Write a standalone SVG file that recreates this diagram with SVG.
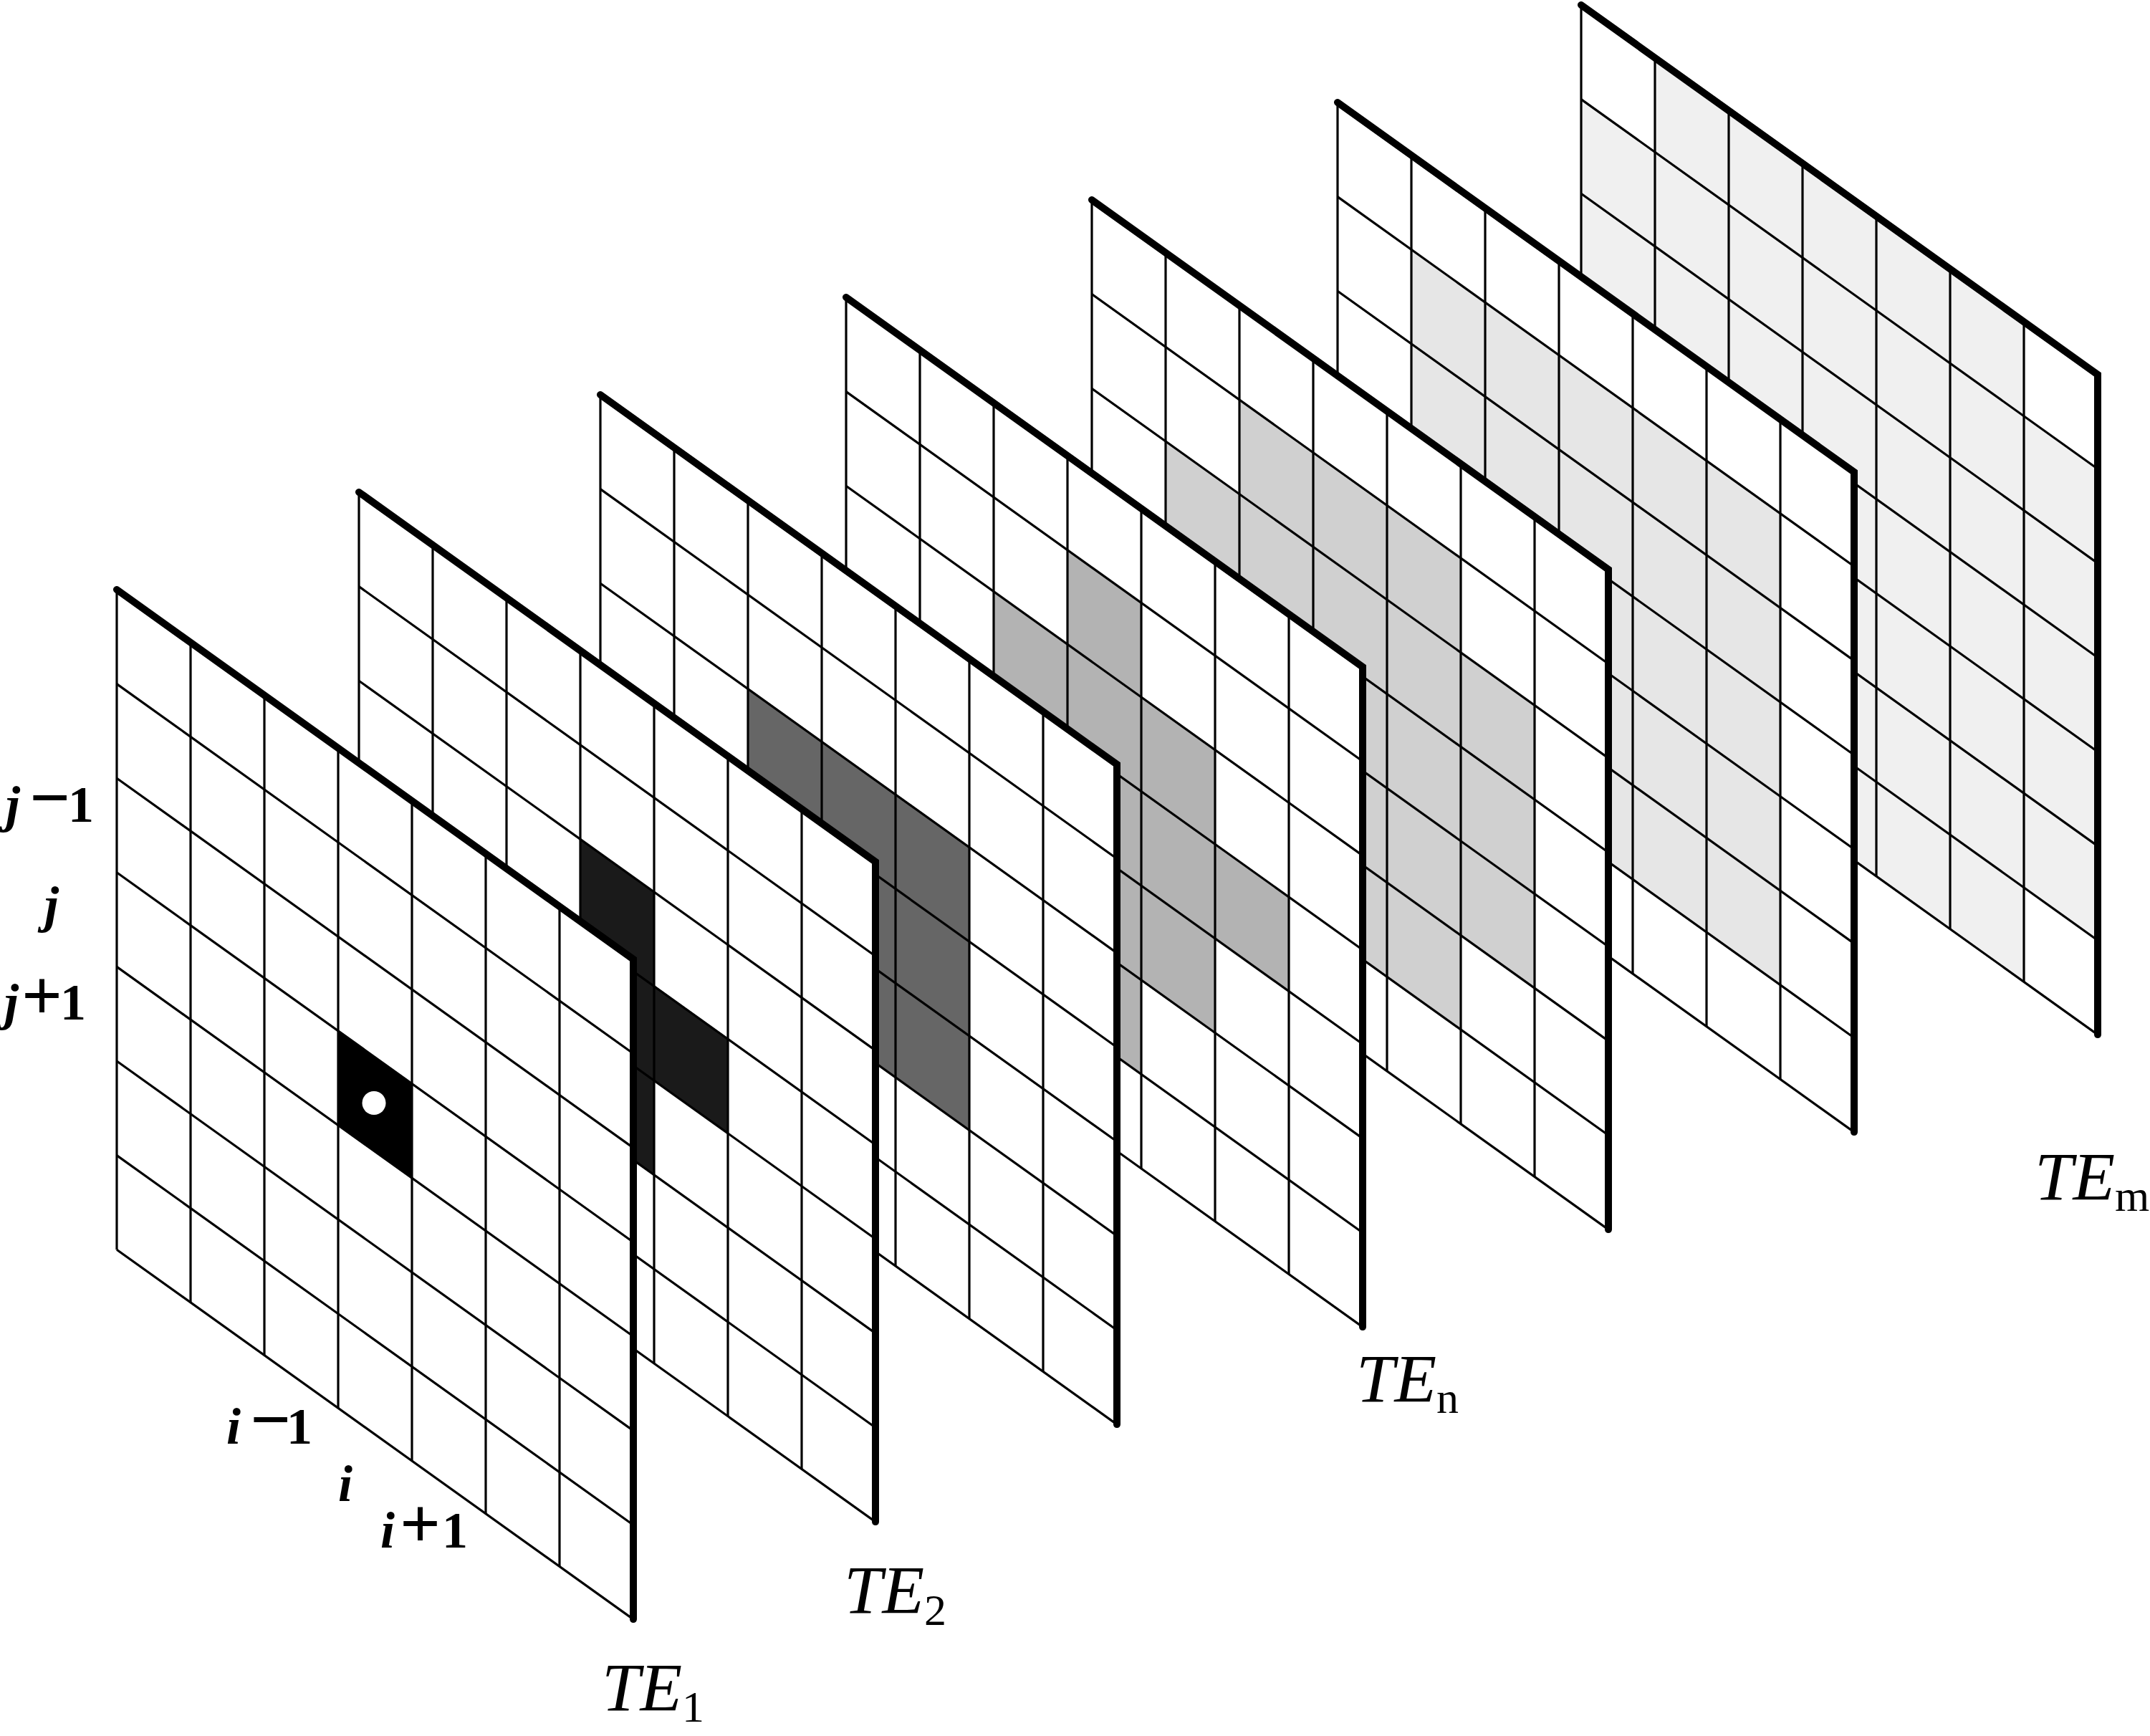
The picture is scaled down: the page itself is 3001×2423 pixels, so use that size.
<svg xmlns="http://www.w3.org/2000/svg" xmlns:xlink="http://www.w3.org/1999/xlink" width="3001" height="2423" viewBox="0 0 3001 2423">
<style>
.sheet{fill:#fff;stroke:none}
.thin{stroke:#000;stroke-width:3.2;fill:none}
.thick{stroke:#000;stroke-width:10;fill:none;stroke-linecap:round;stroke-linejoin:miter}
.lab{font-family:"Liberation Serif","Times New Roman",serif;font-weight:bold;font-size:72px;fill:#000}
.it{font-style:italic}
.op{font-size:100px}
.te{font-family:"Liberation Serif","Times New Roman",serif;font-style:italic;font-size:96px;fill:#000}
.sub{font-style:normal;font-size:62px}
.s0{fill:#000}.s1{fill:#1a1a1a}.s2{fill:#666}.s3{fill:#b3b3b3}.s4{fill:#d0d0d0}.s5{fill:#e6e6e6}.s6{fill:#f0f0f0}
</style>
<defs>
<polygon id="sheet" class="sheet" points="0,0 721,515.9 721,1437.1 0,921.2"/>
<g id="grid">
<g class="thin">
<line x1="0" y1="0" x2="0" y2="921.2"/>
<line x1="103" y1="73.7" x2="103" y2="994.9"/>
<line x1="206" y1="147.4" x2="206" y2="1068.6"/>
<line x1="309" y1="221.1" x2="309" y2="1142.3"/>
<line x1="412" y1="294.8" x2="412" y2="1216"/>
<line x1="515" y1="368.5" x2="515" y2="1289.7"/>
<line x1="618" y1="442.2" x2="618" y2="1363.4"/>
<line x1="0" y1="131.6" x2="721" y2="647.5"/>
<line x1="0" y1="263.2" x2="721" y2="779.1"/>
<line x1="0" y1="394.8" x2="721" y2="910.7"/>
<line x1="0" y1="526.4" x2="721" y2="1042.3"/>
<line x1="0" y1="658" x2="721" y2="1173.9"/>
<line x1="0" y1="789.6" x2="721" y2="1305.5"/>
<line x1="0" y1="921.2" x2="721" y2="1437.1"/>
</g>
<polyline class="thick" points="0,0 721,515.9 721,1437.1"/>
</g>
</defs>

<g id="plane-m" transform="translate(2207,7)">
<use xlink:href="#sheet"/>
<g class="s6">
<polygon points="0,131.6 103,205.3 103,863.3 0,789.6"/>
<polygon points="103,73.7 618,442.2 618,1363.4 103,994.9"/>
<polygon points="618,573.8 721,647.5 721,1305.5 618,1231.8"/>
</g>
<use xlink:href="#grid"/>
</g>

<g id="plane-6" transform="translate(1867,143)">
<use xlink:href="#sheet"/>
<polygon class="s5" points="103,205.3 618,573.8 618,1231.8 103,863.3"/>
<use xlink:href="#grid"/>
</g>

<g id="plane-5" transform="translate(1524,279)">
<use xlink:href="#sheet"/>
<g class="s4">
<polygon points="103,336.9 206,410.6 206,805.4 103,731.7"/>
<polygon points="206,279 515,500.1 515,1158.1 206,937"/>
<polygon points="515,631.7 618,705.4 618,1100.2 515,1026.5"/>
</g>
<use xlink:href="#grid"/>
</g>

<g id="plane-n" transform="translate(1181,415)">
<use xlink:href="#sheet"/>
<g class="s3">
<polygon points="103,468.5 206,542.2 206,673.8 103,600.1"/>
<polygon points="206,410.6 309,484.3 309,879.1 206,805.4"/>
<polygon points="309,352.7 412,426.4 412,1084.4 309,1010.7"/>
<polygon points="412,558 515,631.7 515,1026.5 412,952.8"/>
<polygon points="515,763.3 618,837 618,968.6 515,894.9"/>
</g>
<use xlink:href="#grid"/>
</g>

<g id="plane-3" transform="translate(838,551)">
<use xlink:href="#sheet"/>
<polygon class="s2" points="206,410.6 515,631.7 515,1026.5 206,805.4"/>
<use xlink:href="#grid"/>
</g>

<g id="plane-2" transform="translate(501,687)">
<use xlink:href="#sheet"/>
<g class="s1">
<polygon points="206,542.2 309,615.9 309,747.5 206,673.8"/>
<polygon points="309,484.3 412,558 412,952.8 309,879.1"/>
<polygon points="412,689.6 515,763.3 515,894.9 412,821.2"/>
</g>
<use xlink:href="#grid"/>
</g>

<g id="plane-1" transform="translate(163,823)">
<use xlink:href="#sheet"/>
<polygon class="s0" points="309,615.9 412,689.6 412,821.2 309,747.5"/>
<use xlink:href="#grid"/>
<circle cx="359" cy="716.5" r="16.5" fill="#fff"/>
</g>

<g id="labels">
<text class="lab" y="1147"><tspan class="it" x="8">j</tspan><tspan class="op" x="41">−</tspan><tspan x="95">1</tspan></text>
<text class="lab it" x="62" y="1287">j</text>
<text class="lab" y="1423"><tspan class="it" x="6">j</tspan><tspan class="op" x="30">+</tspan><tspan x="84">1</tspan></text>
<text class="lab" y="2015"><tspan class="it" x="316">i</tspan><tspan class="op" x="349">−</tspan><tspan x="400">1</tspan></text>
<text class="lab it" x="472" y="2095">i</text>
<text class="lab" y="2160"><tspan class="it" x="531">i</tspan><tspan class="op" x="558">+</tspan><tspan x="617">1</tspan></text>
<text class="te" x="840" y="2388">TE<tspan class="sub" dy="15">1</tspan></text>
<text class="te" x="1178" y="2252">TE<tspan class="sub" dy="16">2</tspan></text>
<text class="te" x="1893" y="1957">TE<tspan class="sub" dy="15">n</tspan></text>
<text class="te" x="2840" y="1675">TE<tspan class="sub" dy="15">m</tspan></text>
</g>
</svg>
